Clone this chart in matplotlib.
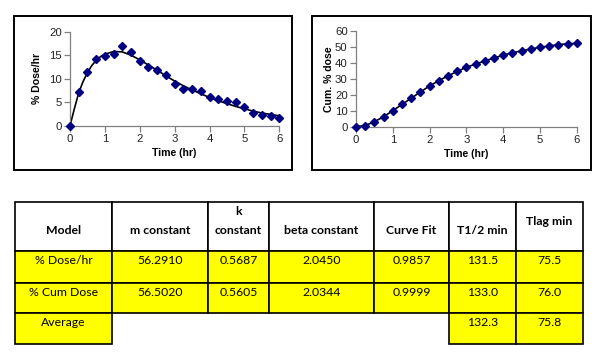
import numpy as np
import matplotlib
matplotlib.use("Agg")
import matplotlib.pyplot as plt
from matplotlib.patches import Rectangle

# ---- chart data ----
time_hr = [0, 0.25, 0.5, 0.75, 1, 1.25, 1.5, 1.75, 2, 2.25, 2.5, 2.75, 3,
           3.25, 3.5, 3.75, 4, 4.25, 4.5, 4.75, 5, 5.25, 5.5, 5.75, 6]
dose_hr = [0, 7.2, 11.5, 14.2, 14.9, 15.2, 17.0, 15.6, 13.8, 12.4, 11.9, 10.8, 8.9,
           7.9, 7.9, 7.4, 6.0, 5.7, 5.2, 5.0, 4.0, 2.6, 2.3, 2.1, 1.6]
# fitted curve
fit_time = [0, 0.125, 0.25, 0.375, 0.5, 0.625, 0.75, 0.875, 1, 1.25, 1.5, 1.75, 2,
            2.25, 2.5, 2.75, 3, 3.25, 3.5, 3.75, 4, 4.25, 4.5, 4.75, 5, 5.25,
            5.5, 5.75, 6]
dose_fit = [0, 3.6, 7.0, 9.4, 11.3, 12.8, 13.9, 14.7, 15.2, 15.8, 15.7, 15.0, 14.0,
            12.9, 11.8, 10.6, 9.5, 8.5, 7.6, 6.8, 6.0, 5.3, 4.7, 4.1, 3.6, 3.1,
            2.7, 2.4, 2.1]
cum_dose = [0, 0.7, 3.1, 6.3, 10.0, 14.0, 17.8, 21.8, 25.5, 28.9, 31.8, 34.7, 37.2,
            39.3, 41.2, 43.1, 44.8, 46.4, 47.5, 48.7, 49.8, 50.6, 51.5, 51.9, 52.3]

# ---- table data ----
col_headers = ["Model", "m constant", "k\nconstant", "beta constant",
               "Curve Fit", "T1/2 min", "Tlag min"]
row_dose = ["% Dose/hr", "56.2910", "0.5687", "2.0450", "0.9857", "131.5", "75.5"]
row_cum = ["% Cum Dose", "56.5020", "0.5605", "2.0344", "0.9999", "133.0", "76.0"]
row_avg = ["Average", "", "", "", "", "132.3", "75.8"]

W, H = 600, 362
fig = plt.figure(figsize=(W / 100, H / 100), dpi=100)


def fx(x):
    return x / W


def fy(y):
    return 1 - y / H


def box(x0, y0, x1, y1, fc="none", lw=1.4, ec="black"):
    fig.patches.append(Rectangle((fx(x0), fy(y1)), fx(x1) - fx(x0), fy(y0) - fy(y1),
                                 transform=fig.transFigure, fc=fc, ec=ec, lw=lw))


# chart frames
box(14, 16, 292, 170)
box(312, 16, 591, 170)

tick_font = {"family": "Liberation Sans", "size": 8.2}
lab_font = {"family": "Liberation Sans", "size": 7.6, "weight": "bold"}


def style(ax, ymax, ystep):
    ax.set_xlim(0, 6)
    ax.set_ylim(0, ymax)
    ax.set_xticks(range(0, 7))
    ax.set_yticks(np.arange(0, ymax + 1, ystep))
    for s in ["top", "right"]:
        ax.spines[s].set_visible(False)
    for s in ["left", "bottom"]:
        ax.spines[s].set_color("#808080")
        ax.spines[s].set_linewidth(0.9)
    ax.tick_params(direction="out", length=4, width=0.9, color="#808080", pad=2)
    for lbl in ax.get_xticklabels() + ax.get_yticklabels():
        lbl.set_fontfamily(tick_font["family"])
        lbl.set_fontsize(tick_font["size"])
        lbl.set_color("#222222")
    ax.set_xlabel("Time (hr)", fontdict=lab_font, labelpad=3)


# left chart: % Dose/hr
ax1 = fig.add_axes([fx(70), fy(125.7), fx(279.3) - fx(70), fy(31.7) - fy(125.7)])
ax1.plot(fit_time, dose_fit, color="black", lw=1.2, clip_on=False, zorder=2)
ax1.plot(time_hr, dose_hr, "D", color="#000080", ms=3.9, clip_on=False, zorder=3)
style(ax1, 20, 5)
ax1.set_ylabel("% Dose/hr", fontdict=lab_font, labelpad=5)

# right chart: cumulative % dose
ax2 = fig.add_axes([fx(356), fy(126.7), fx(576.7) - fx(356), fy(31) - fy(126.7)])
ax2.plot(time_hr, cum_dose, color="black", lw=1.2, clip_on=False, zorder=2)
ax2.plot(time_hr, cum_dose, "D", color="#000080", ms=3.6, clip_on=False, zorder=3)
style(ax2, 60, 10)
ax2.set_ylabel("Cum. % dose", fontdict=lab_font, labelpad=1)

# ---- table ----
xs = [15, 112, 208, 269, 374, 449, 516, 583]
ys = [202, 251, 283, 313, 344]
yellow = "#FFFF00"
hdr_font = {"family": "Lato", "size": 8.8, "weight": "bold"}
cell_font = {"family": "Lato", "size": 8.8}

for i, txt in enumerate(col_headers):
    box(xs[i], ys[0], xs[i + 1], ys[1], fc="white", lw=1.2)
    cx = (xs[i] + xs[i + 1]) / 2
    if txt.startswith("k"):
        fig.text(fx(cx), fy(212), "k", ha="center", va="center", fontdict=hdr_font)
        fig.text(fx(cx), fy(230), "constant", ha="center", va="center", fontdict=hdr_font)
    elif txt == "Tlag min":
        fig.text(fx(cx), fy(221), txt, ha="center", va="center", fontdict=hdr_font)
    else:
        fig.text(fx(cx), fy(230), txt, ha="center", va="center", fontdict=hdr_font)

for r, row in enumerate([row_dose, row_cum, row_avg]):
    top, bot = ys[r + 1], ys[r + 2]
    for i, txt in enumerate(row):
        if r == 2 and 1 <= i <= 4:
            continue
        box(xs[i], top, xs[i + 1], bot, fc=yellow, lw=1.2)
        cx = (xs[i] + xs[i + 1]) / 2
        fig.text(fx(cx), fy(top + 9), txt, ha="center", va="center", fontdict=cell_font)

fig.savefig("out.png", dpi=100)
